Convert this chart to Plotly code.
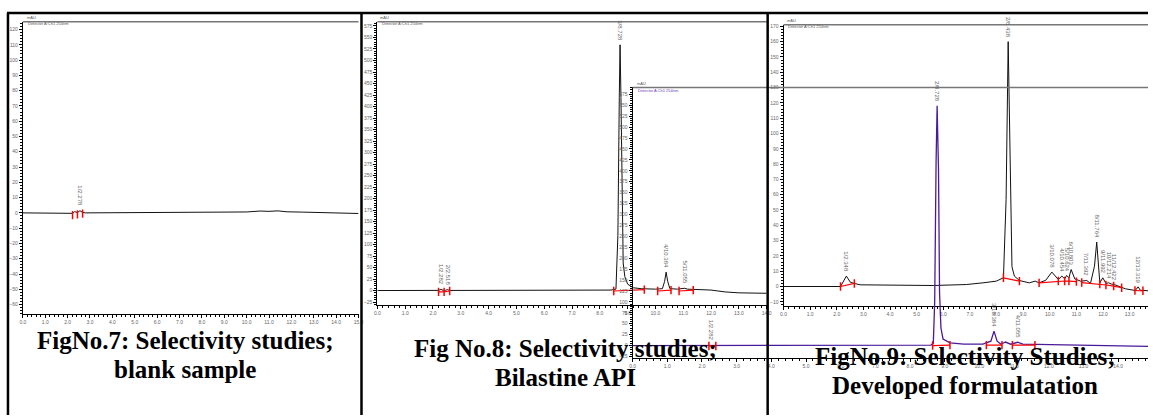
import plotly.graph_objects as go

W, H = 1153, 416


def px(x):
    return x / W


def py(y):
    return 1 - y / H


# ---------------- data ----------------
# Fig 7: blank sample (time min, mAU)
p1_t = [0.0, 2.0, 2.22, 2.32, 2.44, 2.55, 2.67, 2.8, 5.0, 9.0, 10.0, 10.6, 11.0, 11.4, 11.8, 12.5, 13.5, 14.5, 15.0]
p1_v = [0.0, 0.0, -0.3, 0.8, 0.2, 1.4, 0.3, 0.0, 0.1, 0.3, 0.6, 1.2, 1.0, 1.3, 0.7, 0.5, 0.3, -0.2, -0.4]
p1_red_t = [2.22, 2.44, 2.67]
p1_red_v = [-1.5, -1.0, -0.5]
p1_peaks = [(2.55, 1.4, "1/2.278")]

# Fig 8: Bilastine API (main chromatogram)
p2_t = [0.0, 2.1, 2.2, 2.282, 2.38, 2.45, 2.518, 2.6, 5.0, 8.0, 8.4, 8.58, 8.65, 8.70, 8.728, 8.76, 8.80, 8.84, 8.90,
        9.0, 9.2, 9.5, 10.0, 10.25, 10.33, 10.384, 10.44, 10.52, 10.8, 11.0, 11.055, 11.15, 11.4, 12.0, 12.5, 13.0, 14.0]
p2_v = [0.0, 0.0, 0.3, 2.5, 0.3, 0.5, 2.0, 0.2, 0.0, 0.5, 1.0, 3.0, 120, 420, 534, 420, 150, 60, 30,
        14, 6, 4, 3, 4, 20, 40, 20, 4, 3, 4, 5, 3, 2, 1, -3, -5, -6]
p2_red = [[(2.2, -3), (2.4, -3), (2.6, -1)],
          [(8.5, -1), (9.6, 2)],
          [(10.08, -1), (10.56, 1)],
          [(10.85, -1), (11.36, 1)]]
p2_peaks = [(2.282, 2.5, "1/2.282"), (2.518, 2.0, "2/2.518"), (8.728, 534, "3/8.728"),
            (10.384, 40, "4/10.384"), (11.055, 5, "5/11.055")]

# Fig 9: developed formulation (black)
p3_t = [0.0, 2.14, 2.36, 2.51, 2.66, 2.88, 5.62, 6.87, 7.49, 7.99, 8.26, 8.36, 8.438, 8.52, 8.58, 8.67, 8.86,
        9.23, 9.45, 9.6, 9.85, 10.078, 10.32, 10.454, 10.56, 10.634, 10.72, 10.803, 10.94, 11.16, 11.392,
        11.53, 11.68, 11.764, 11.82, 11.88, 11.992, 12.11, 12.214, 12.31, 12.422, 12.84, 13.21, 13.319, 13.4, 13.7]
p3_v = [0.0, 0.0, 6.8, 2.8, 2.0, 1.1, 0.65, 1.3, 2.4, 3.5, 5.7, 57, 160, 79, 13, 6.8, 3.9,
        2.4, 3.5, 2.4, 4.1, 9.4, 4.6, 6.8, 5.0, 7.2, 5.7, 11.1, 5.0, 3.5, 3.9,
        2.0, 13.3, 29.0, 13.3, 2.4, 5.7, 2.0, 2.4, 1.6, 1.3, -1.5, -2.6, -0.2, -2.4, -2.8]
p3_red = [[(2.14, 0.0), (2.66, 2.0)],
          [(8.26, 5.7), (8.86, 3.5)],
          [(9.6, 2.4), (10.32, 3.6), (10.56, 3.6), (10.72, 3.5), (11.0, 3.2)],
          [(11.2, 2.6), (11.88, 1.6), (12.11, 1.0), (12.4, 0.3), (12.7, -0.8)],
          [(13.2, -2.6), (13.5, -2.8)]]
p3_peaks = [(2.36, 6.8, "1/2.348"), (8.438, 160, "2/8.438"), (10.078, 9.4, "3/10.078"),
            (10.454, 6.8, "4/10.454"), (10.634, 7.2, "5/10.624"), (10.803, 11.1, "6/10.803"),
            (11.392, 3.9, "7/11.392"), (11.764, 29.0, "8/11.764"), (11.992, 5.7, "9/11.992"),
            (12.214, 2.4, "10/12.214"), (12.422, 1.3, "11/12.422"), (13.319, -0.2, "12/13.319")]

# overlaid inset chromatogram (purple, Detector A Ch1 254nm)
p4_t = [0.0, 2.2, 2.282, 2.4, 5.0, 8.45, 8.6, 8.67, 8.71, 8.75, 8.78, 8.82, 8.85, 8.89, 8.95, 9.15, 9.55,
        10.1, 10.33, 10.42, 10.51, 10.62, 10.75, 10.9, 11.1, 11.25, 12.0, 13.0, 14.0, 14.86]
p4_v = [0.0, 0.0, 1.0, 0.0, 0.0, 0.5, 1.0, 5.0, 100, 420, 549, 400, 120, 40, 15, 6, 3,
        3, 10, 33, 10, 3, 8, 3, 7.5, 3, 2, 0, -1, -2]
p4_red = [[(2.2, -1), (2.4, -1)],
          [(8.65, 0), (9.15, 1)],
          [(10.2, 1), (10.65, 1)],
          [(10.95, 1), (11.6, 1)]]
p4_peaks = [(2.282, 1.0, "1/2.282"), (8.78, 549, "2/8.728"), (10.42, 33, "3/10.384"), (11.1, 7.5, "4/11.055")]

captions = [
    (183, 341, "FigNo.7: Selectivity studies;"), (183, 370, "blank sample"),
    (566, 349, "Fig No.8: Selectivity studies;"), (566, 378, "Bilastine API"),
    (969, 357, "FigNo.9: Selectivity Studies;"), (969, 386, "Developed formulatation"),
]

# ---------------- figure ----------------
fig = go.Figure()
BLACK = "#111111"
PURPLE = "#4a1a9a"
RED = "#ff0000"


def add_chrom(t, v, xa, ya, color, width=1.0):
    fig.add_trace(go.Scatter(x=t, y=v, mode="lines", xaxis=xa, yaxis=ya,
                             line=dict(color=color, width=width), hoverinfo="skip", showlegend=False))


def add_red(segs, xa, ya):
    for seg in segs:
        fig.add_trace(go.Scatter(x=[s[0] for s in seg], y=[s[1] for s in seg], mode="lines+markers",
                                 xaxis=xa, yaxis=ya, line=dict(color=RED, width=1.2),
                                 marker=dict(symbol="line-ns", size=6, line=dict(color=RED, width=1.5)),
                                 hoverinfo="skip", showlegend=False))


add_chrom(p1_t, p1_v, "x", "y", BLACK)
fig.add_trace(go.Scatter(x=p1_red_t, y=p1_red_v, mode="markers", xaxis="x", yaxis="y",
                         marker=dict(symbol="line-ns", size=6, line=dict(color=RED, width=1.5)),
                         hoverinfo="skip", showlegend=False))
add_chrom(p2_t, p2_v, "x2", "y2", BLACK)
add_red(p2_red, "x2", "y2")
add_chrom(p3_t, p3_v, "x3", "y3", BLACK)
add_red(p3_red, "x3", "y3")
add_chrom(p4_t, p4_v, "x4", "y4", PURPLE, 1.3)
add_red(p4_red, "x4", "y4")

TICKFONT = dict(family="Liberation Sans", size=5, color="#666666")


def xax(x0, x1, ybot, rng, anchor):
    return dict(domain=[px(x0), px(x1)], range=rng, anchor=anchor, showline=True, linecolor="black",
                linewidth=1, ticks="outside", ticklen=3, tickcolor="black", tick0=0, dtick=1,
                tickformat=".1f", tickfont=TICKFONT, showgrid=False, zeroline=False, fixedrange=True,
                minor=dict(dtick=0.2, ticklen=2, ticks="outside", tickcolor="black", showgrid=False))


def yax(ytop, ybot, rng, anchor, dtick, mdt):
    return dict(domain=[py(ybot), py(ytop)], range=rng, anchor=anchor, showline=True, linecolor="black",
                linewidth=1, ticks="outside", ticklen=3, tickcolor="black", tick0=0, dtick=dtick,
                tickfont=TICKFONT, showgrid=False, zeroline=False, fixedrange=True,
                minor=dict(dtick=mdt, ticklen=2, ticks="outside", tickcolor="black", showgrid=False))


fig.update_layout(
    width=W, height=H, margin=dict(l=0, r=0, t=0, b=0),
    paper_bgcolor="white", plot_bgcolor="rgba(0,0,0,0)", showlegend=False,
    xaxis=xax(20, 358, 314, [0, 15.0], "y"),
    yaxis=yax(20, 314, [-66, 125], "x", 10, 2),
    xaxis2=xax(377, 769, 305, [0, 14.0], "y2"),
    yaxis2=yax(20, 305, [-31, 584], "x2", 25, 5),
    xaxis3=xax(786, 1153, 306, [0, 13.69], "y3"),
    yaxis3=yax(23, 306, [-12.6, 171], "x3", 10, 2),
    xaxis4=xax(634, 1153, 359, [0, 14.86], "y4"),
    yaxis4=yax(86, 359, [-29.5, 591], "x4", 25, 5),
)

shapes = []
# plot frame top lines
for (x0, x1, y) in [(20, 358, 20), (377, 769, 20), (786, 1153, 23), (634, 1153, 86)]:
    shapes.append(dict(type="line", xref="paper", yref="paper", x0=px(x0), x1=px(x1), y0=py(y), y1=py(y),
                       line=dict(color="#777777", width=1.5), layer="above"))
# table borders
for (x0, y0, x1, y1) in [(4, 11, 1153, 11), (5, 11, 5, 416), (361, 11, 361, 416), (770, 11, 770, 416)]:
    shapes.append(dict(type="line", xref="paper", yref="paper", x0=px(x0), x1=px(x1), y0=py(y0), y1=py(y1),
                       line=dict(color="black", width=2.5), layer="above"))
fig.update_layout(shapes=shapes)

ann = []
for (x, y, txt, col) in [(22, 16, "mAU", "#555555"), (23, 22, "Detector A:Ch1 254nm", "#555555"),
                         (378, 16, "mAU", "#555555"), (380, 22, "Detector A:Ch1 254nm", "#555555"),
                         (787, 19, "mAU", "#555555"), (788, 25, "Detector A:Ch1 254nm", "#555555"),
                         (636, 82, "mAU", "#555555"), (637, 89, "Detector A Ch1 254nm", "#6a3ab8")]:
    ann.append(dict(x=px(x), y=py(y), xref="paper", yref="paper", text=txt, showarrow=False,
                    xanchor="left", yanchor="middle", font=dict(family="Liberation Sans", size=4, color=col)))

for peaks, xa, ya in [(p1_peaks, "x", "y"), (p2_peaks, "x2", "y2"), (p3_peaks, "x3", "y3"), (p4_peaks, "x4", "y4")]:
    for (t, v, lab) in peaks:
        ann.append(dict(x=t, y=v, xref=xa, yref=ya, text=lab, showarrow=False, textangle=90,
                        xanchor="center", yanchor="bottom", yshift=2,
                        font=dict(family="Liberation Sans", size=6, color="#666666")))

for (x, y, txt) in captions:
    ann.append(dict(x=px(x), y=py(y), xref="paper", yref="paper", text=txt, showarrow=False,
                    xanchor="center", yanchor="middle",
                    font=dict(family="Liberation Serif", size=25, color="black", weight="bold")))
fig.update_layout(annotations=ann)

fig.write_html("out.html")
